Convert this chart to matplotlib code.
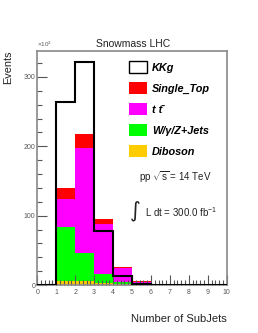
import matplotlib
matplotlib.use("Agg")
import matplotlib.pyplot as plt
import numpy as np
from matplotlib.patches import Patch
from matplotlib.ticker import MultipleLocator

plt.rcParams['font.family'] = ['Liberation Sans', 'DejaVu Sans']
plt.rcParams['mathtext.fontset'] = 'custom'
plt.rcParams['mathtext.rm'] = 'Liberation Sans'
plt.rcParams['mathtext.it'] = 'Liberation Sans:italic:bold'
plt.rcParams['mathtext.bf'] = 'Liberation Sans:bold'

# Data (Events, x10^3 scale as labelled), bins 0..10 of Number of SubJets
bin_edges = list(range(0, 11))
diboson = [0, 6, 5.5, 3, 1, 0.3, 0, 0, 0, 0]
wzjets = [0, 77, 41, 13, 3, 0.7, 0, 0, 0, 0]
ttbar = [0, 41, 150.5, 72, 20, 4, 0, 0, 0, 0]
single_top = [0, 16.5, 20.6, 6.5, 1.5, 1, 0, 0, 0, 0]
kkg = [0, 264, 321, 78, 12.5, 2, 0, 0, 0, 0]

labels = ['KKg', 'Single_Top', 't t\u0304', 'W/γ/Z+Jets', 'Diboson']
colors = {'Diboson': '#ffcc00', 'W': '#00ff00', 'tt': '#ff00ff', 'ST': '#ff0000'}

fig = plt.figure(figsize=(2.58, 3.33), dpi=100)
ax = fig.add_axes([0.1447, 0.1441, 0.734, 0.7042])

left = np.array(bin_edges[:-1])
bottom = np.zeros(len(left))
for vals, c in [(diboson, colors['Diboson']), (wzjets, colors['W']),
                (ttbar, colors['tt']), (single_top, colors['ST'])]:
    ax.bar(left, vals, width=1.0, bottom=bottom, align='edge', color=c,
           edgecolor='none', linewidth=0)
    bottom = bottom + np.array(vals)

ax.stairs(kkg, bin_edges, color='black', linewidth=1.5, zorder=5)

ax.set_xlim(0, 10)
ax.set_ylim(0, 338)
ax.xaxis.set_major_locator(MultipleLocator(1))
ax.xaxis.set_minor_locator(MultipleLocator(0.2))
ax.yaxis.set_major_locator(MultipleLocator(100))
ax.yaxis.set_minor_locator(MultipleLocator(20))
ax.tick_params(which='both', direction='in', colors='#555555', labelsize=5,
               top=False, right=False, pad=1.5)
ax.tick_params(which='major', length=7, width=0.8)
ax.tick_params(which='minor', length=3.5, width=0.8)
ax.tick_params(axis='x', pad=3)
for s in ax.spines.values():
    s.set_color('#888888')
    s.set_linewidth(1.2)

ax.text(0.0, 1.005, r'×10$^{3}$', transform=ax.transAxes, fontsize=4.5,
        color='#555555', ha='left', va='bottom')

fig.text(0.515, 0.868, 'Snowmass LHC', ha='center', va='center', fontsize=7.5,
         color='#222222')
fig.text(0.878, 0.042, 'Number of SubJets', ha='right', va='center',
         fontsize=8, color='#222222')
fig.text(0.03, 0.848, 'Events', ha='center', va='top', rotation=90,
         fontsize=7.8, color='#222222')

handles = [
    Patch(facecolor='white', edgecolor='black', linewidth=1.0),
    Patch(facecolor=colors['ST'], edgecolor='none'),
    Patch(facecolor=colors['tt'], edgecolor='none'),
    Patch(facecolor=colors['W'], edgecolor='none'),
    Patch(facecolor=colors['Diboson'], edgecolor='none'),
]
leg = fig.legend(handles, labels, loc='upper left',
                 bbox_to_anchor=(0.5, 0.8155), frameon=False,
                 prop={'family': 'Liberation Sans', 'weight': 'bold',
                       'style': 'italic', 'size': 7.8},
                 borderpad=0, borderaxespad=0, handlelength=1.7,
                 handleheight=1.3, handletextpad=0.4, labelspacing=0.84)

fig.text(0.678, 0.468, r'pp $\sqrt{\mathrm{s}}$ = 14 TeV', ha='center',
         va='center', fontsize=7, color='#222222')
fig.text(0.523, 0.366, '∫', ha='center', va='center', fontsize=15,
         family='DejaVu Sans', color='#222222')
fig.text(0.562, 0.364, r'L dt = 300.0 fb$^{\mathrm{-1}}$', ha='left',
         va='center', fontsize=7, color='#222222')

fig.savefig('out.png', dpi=100)
